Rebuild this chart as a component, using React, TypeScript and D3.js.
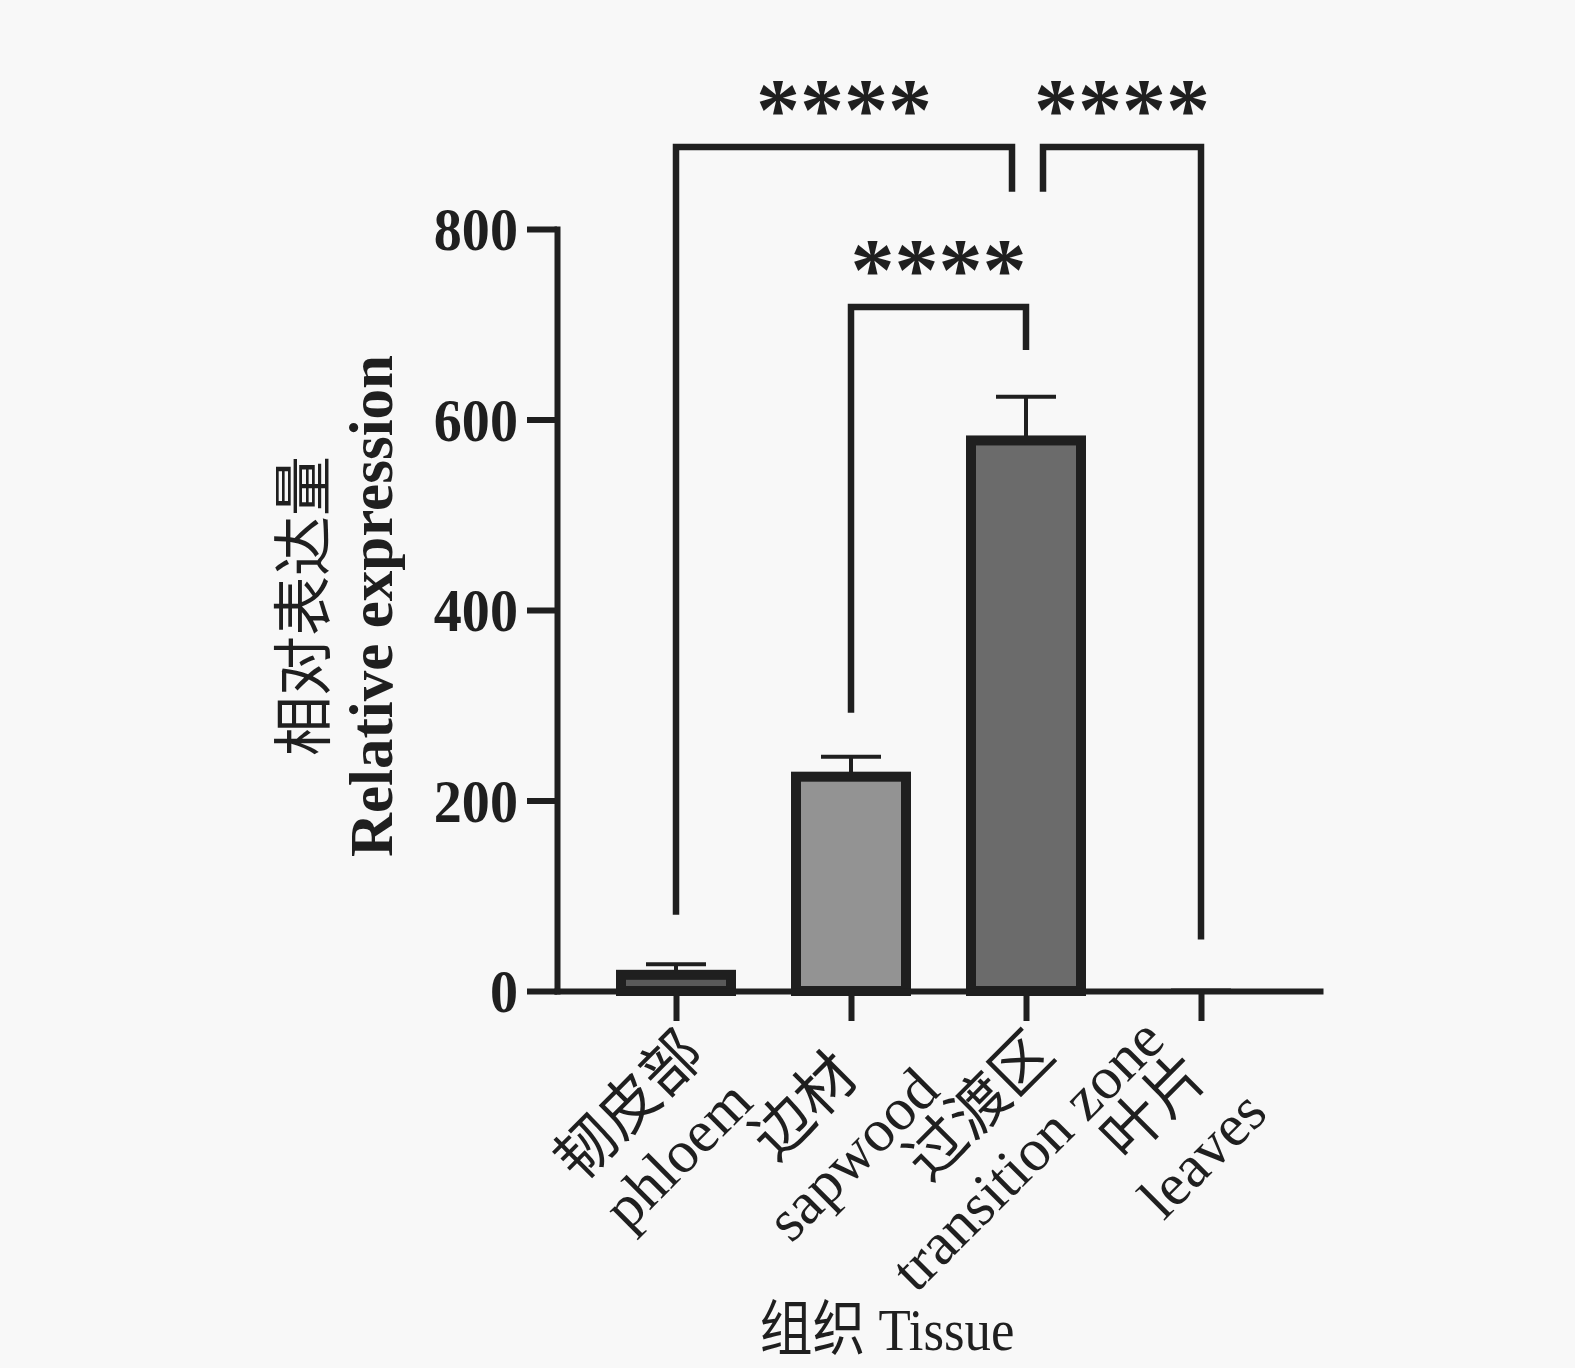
import React, { useEffect, useRef } from 'react';
import * as d3 from 'd3';

const tissuesZh = ['韧皮部', '边材', '过渡区', '叶片'];
const tissuesEn = ['phloem', 'sapwood', 'transition zone', 'leaves'];
const meanExpression = [17, 225, 578, 0.4];
const errorUpper = [11, 21, 46, 0.2];
const barFills = ['#595959', '#939393', '#6b6b6b', '#808080'];
const yTicks = [0, 200, 400, 600, 800];

// significance brackets, heights in data units
const comparisons = [
  { from: 0, to: 2, top: 886, legFrom: 80, legTo: 839, label: '****' },
  { from: 2, to: 3, top: 886, legFrom: 839, legTo: 54, label: '****' },
  { from: 1, to: 2, top: 718, legFrom: 292, legTo: 673, label: '****' },
];

const serif = "'Liberation Serif', 'Times New Roman', 'Noto Sans CJK SC', serif";
const ink = '#1f1f1f';

const App: React.FC = () => {
  const svgRef = useRef<SVGSVGElement | null>(null);

  useEffect(() => {
    document.body.style.margin = '0';
    document.body.style.background = '#f8f8f8';
    if (!svgRef.current) return;

    const width = 1575;
    const height = 1368;
    const axisX = 557;
    const axisY = 991;

    const svg = d3.select(svgRef.current)
      .attr('width', width)
      .attr('height', height)
      .attr('viewBox', `0 0 ${width} ${height}`);

    svg.selectAll('*').remove();

    svg.append('rect')
      .attr('width', width)
      .attr('height', height)
      .attr('fill', '#f8f8f8');

    const x = d3.scalePoint<number>()
      .domain(d3.range(tissuesEn.length))
      .range([axisX, 1320])
      .padding(0.68);

    const y = d3.scaleLinear()
      .domain([0, 800])
      .range([axisY, 229]);

    // error bars (upper only)
    const err = svg.append('g').attr('stroke', ink).attr('stroke-width', 4);
    meanExpression.forEach((m, i) => {
      const cx = x(i)!;
      err.append('line')
        .attr('x1', cx).attr('x2', cx)
        .attr('y1', y(m)).attr('y2', y(m + errorUpper[i]));
      err.append('line')
        .attr('x1', cx - 30).attr('x2', cx + 30)
        .attr('y1', y(m + errorUpper[i])).attr('y2', y(m + errorUpper[i]));
    });

    // bars (a near-zero bar disappears into the axis, as in the original)
    svg.append('g')
      .selectAll('rect')
      .data(meanExpression)
      .join('rect')
      .attr('x', (_, i) => x(i)! - 55)
      .attr('y', d => y(d))
      .attr('width', 110)
      .attr('height', d => y(0) - y(d))
      .attr('fill', (_, i) => barFills[i])
      .attr('stroke', ink)
      .attr('stroke-width', d => (y(0) - y(d) < 2 ? 0 : 10));

    // y axis
    const yAxis = svg.append('g')
      .attr('transform', `translate(${axisX},0)`)
      .call(d3.axisLeft(y).tickValues(yTicks).tickSize(30).tickSizeOuter(0).tickFormat(() => ''));
    yAxis.select('.domain').attr('stroke', ink).attr('stroke-width', 6).attr('stroke-linecap', 'square');
    yAxis.selectAll('.tick line').attr('stroke', ink).attr('stroke-width', 6);

    svg.append('g')
      .selectAll('text')
      .data(yTicks)
      .join('text')
      .attr('transform', d => `translate(518,${y(d)}) scale(0.92,1)`)
      .attr('dy', '0.35em')
      .attr('text-anchor', 'end')
      .attr('font-family', serif)
      .attr('font-weight', 'bold')
      .attr('font-size', 61)
      .attr('fill', ink)
      .text(d => d);

    // x axis
    const xAxis = svg.append('g')
      .attr('transform', `translate(0,${axisY})`)
      .call(d3.axisBottom(x).tickSize(30).tickSizeOuter(0).tickFormat(() => ''));
    xAxis.select('.domain').attr('stroke', ink).attr('stroke-width', 6).attr('stroke-linecap', 'square');
    xAxis.selectAll('.tick line').attr('stroke', ink).attr('stroke-width', 6);

    // rotated two-line category labels
    const labels = svg.append('g')
      .selectAll('g')
      .data(tissuesEn)
      .join('g')
      .attr('transform', (_, i) => `translate(${x(i)},1020) rotate(-45)`);
    const lt = labels.append('text')
      .attr('text-anchor', 'middle')
      .attr('font-family', serif)
      .attr('font-size', 60)
      .attr('fill', ink);
    lt.append('tspan').attr('x', -94).attr('y', 48).text((_, i) => tissuesZh[i]);
    lt.append('tspan').attr('x', -94).attr('y', 116).text(d => d);

    // x title
    svg.append('text')
      .attr('transform', 'translate(887,1350) scale(0.88,1)')
      .attr('text-anchor', 'middle')
      .attr('font-family', serif)
      .attr('font-size', 60)
      .attr('fill', ink)
      .text('组织 Tissue');

    // y title
    const yt = svg.append('g').attr('transform', 'translate(0,606) rotate(-90)');
    yt.append('text')
      .attr('x', 0).attr('y', 325)
      .attr('text-anchor', 'middle')
      .attr('font-family', serif)
      .attr('font-size', 60)
      .attr('fill', ink)
      .text('相对表达量');
    yt.append('text')
      .attr('x', 0).attr('y', 392)
      .attr('text-anchor', 'middle')
      .attr('font-family', serif)
      .attr('font-weight', 'bold')
      .attr('font-size', 61)
      .attr('fill', ink)
      .text('Relative expression');

    // significance brackets
    const nudges = [[0, -14], [17, 0], [0, 0]];
    const br = svg.append('g');
    comparisons.forEach((c, k) => {
      const xa = x(c.from)! + nudges[k][0];
      const xb = x(c.to)! + nudges[k][1];
      br.append('path')
        .attr('d', `M${xa},${y(c.legFrom)}V${y(c.top)}H${xb}V${y(c.legTo)}`)
        .attr('fill', 'none')
        .attr('stroke', ink)
        .attr('stroke-width', 6.5);
      br.append('text')
        .attr('x', (xa + xb) / 2)
        .attr('y', y(c.top) - 8)
        .attr('text-anchor', 'middle')
        .attr('font-family', serif)
        .attr('font-weight', 'bold')
        .attr('font-size', 88)
        .attr('fill', ink)
        .text(c.label);
    });
  }, []);

  return <svg ref={svgRef} style={{ display: 'block' }}></svg>;
};

export default App;
